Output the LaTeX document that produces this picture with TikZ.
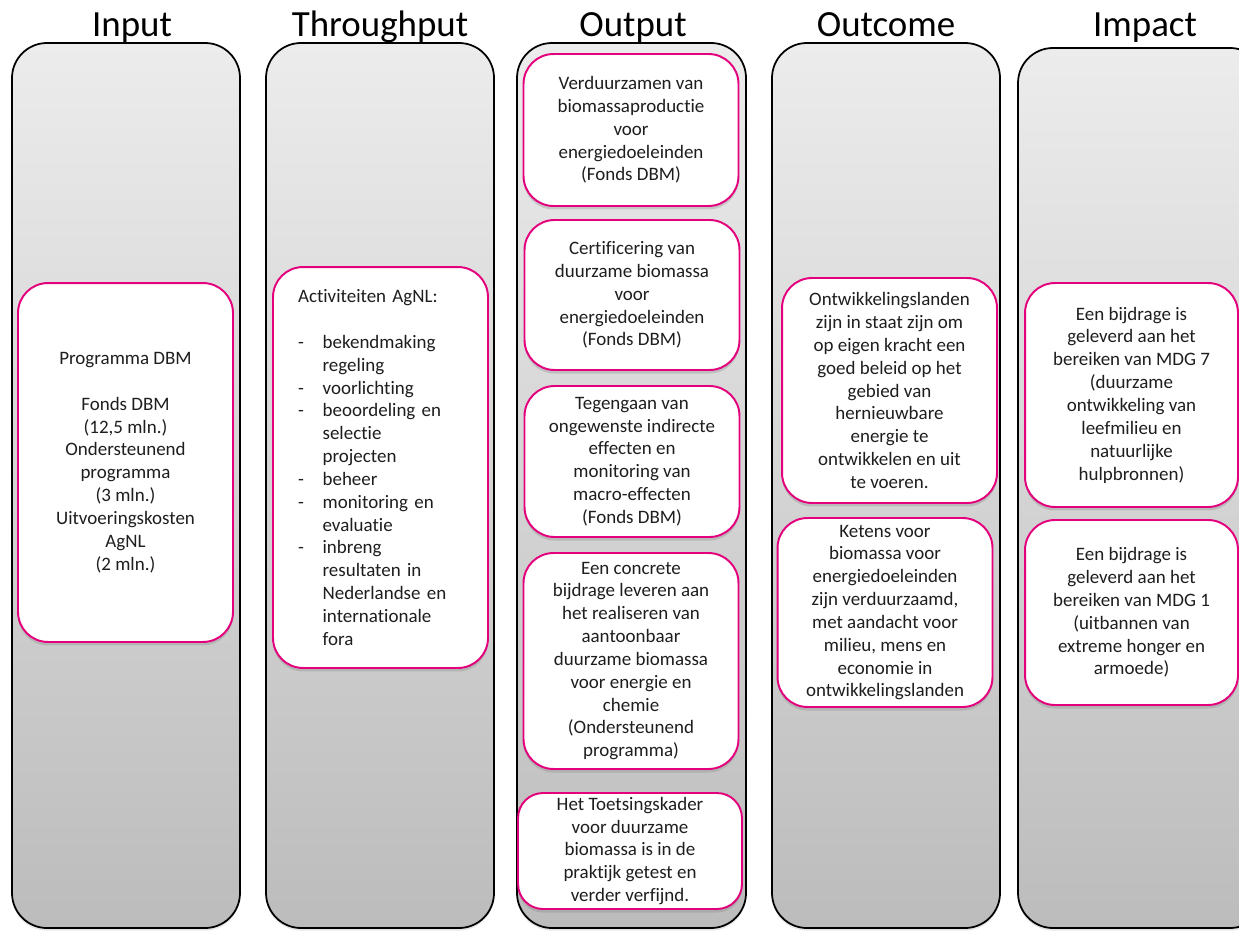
\documentclass[tikz,border=0pt]{standalone}
\usepackage{fontspec}
\setmainfont[Ligatures=NoCommon]{Carlito}
\usetikzlibrary{shadows}
\definecolor{roze}{RGB}{228,0,124}
\definecolor{kolboven}{RGB}{236,236,236}
\definecolor{kolonder}{RGB}{188,188,188}
\definecolor{tekst}{RGB}{30,30,30}
\tikzset{kolom/.style={draw=black, line width=1pt, rounded corners=0.7cm, top color=kolboven, bottom color=kolonder, drop shadow={shadow xshift=0pt, shadow yshift=-1.5pt, opacity=0.2}}}
\tikzset{kop/.style={anchor=base, font=\fontsize{21}{25}\selectfont}}
\tikzset{vak/.style={draw=roze, line width=1.1pt, fill=white, rounded corners=0.6cm, minimum width=4.3cm, align=center, text=tekst, inner sep=2pt, font=\fontsize{10.8}{13}\selectfont, drop shadow={shadow xshift=0pt, shadow yshift=-2pt, opacity=0.3}}}
\newcommand{\streep}{\makebox[14pt][l]{-}}
\newcommand{\inspr}{\hspace*{14pt}}

\begin{document}
\begin{tikzpicture}[x=0.02cm, y=-0.02cm]
        \useasboundingbox (0,0) rectangle (1239,932);
        \clip (0,0) rectangle (1239,932);

        % kolommen
        \draw[kolom] (12,43) rectangle (240,928);
        \draw[kolom] (266,43) rectangle (494,928);
        \draw[kolom] (517,43) rectangle (746,928);
        \draw[kolom] (772,43) rectangle (1000,928);
        \draw[kolom] (1018,48) rectangle (1265,928);

        \node[kop] (kin) at (132,37) {Input};
        \node[kop] (kth) at (380,37) {Throughput};
        \node[kop] (kou) at (633,37) {Output};
        \node[kop] (koc) at (886,37) {Outcome};
        \node[kop] (kim) at (1145,37) {Impact};

        % input
        \node[vak, minimum height=7.18cm] (in) at (125.5,462.5)
         {Programma DBM\\[13pt] Fonds DBM\\ (12,5 mln.)\\ Ondersteunend\\ programma\\ (3 mln.)\\ Uitvoeringskosten\\ AgNL\\ (2 mln.)};

        % throughput
        \node[vak, minimum height=8.02cm, align=left, text width=3.3cm, inner xsep=0.5cm] (th) at (380.5,467.5)
         {Activiteiten AgNL:\\[13pt]
          \streep bekendmaking\\ \inspr regeling\\
          \streep voorlichting\\
          \streep beoordeling en\\ \inspr selectie\\ \inspr projecten\\
          \streep beheer\\
          \streep monitoring en\\ \inspr evaluatie\\
          \streep inbreng\\ \inspr resultaten in\\ \inspr Nederlandse en\\ \inspr internationale\\ \inspr fora};

        % output
        \node[vak, minimum height=3.04cm] (o1) at (631,130)
         {Verduurzamen van\\ biomassaproductie\\ voor\\ energiedoeleinden\\ (Fonds DBM)};
        \node[vak, minimum height=3cm] (o2) at (632,295)
         {Certificering van\\ duurzame biomassa\\ voor\\ energiedoeleinden\\ (Fonds DBM)};
        \node[vak, minimum height=3.02cm] (o3) at (632,461.5)
         {Tegengaan van\\ ongewenste indirecte\\ effecten en\\ monitoring van\\ macro-effecten\\ (Fonds DBM)};
        \node[vak, minimum height=4.32cm] (o4) at (631,661)
         {Een concrete\\ bijdrage leveren aan\\ het realiseren van\\ aantoonbaar\\ duurzame biomassa\\ voor energie en\\ chemie\\ (Ondersteunend\\ programma)};
        \node[vak, minimum height=2.32cm, minimum width=4.48cm, rounded corners=0.5cm] (o5) at (630,851)
         {Het Toetsingskader\\ voor duurzame\\ biomassa is in de\\ praktijk getest en\\ verder verfijnd.};

        % outcome
        \node[vak, minimum height=4.5cm] (oc1) at (889.5,390.5)
         {Ontwikkelingslanden\\ zijn in staat zijn om\\ op eigen kracht een\\ goed beleid op het\\ gebied van\\ hernieuwbare\\ energie te\\ ontwikkelen en uit\\ te voeren.};
        \node[vak, minimum height=3.78cm] (oc2) at (885,612.5)
         {Ketens voor\\ biomassa voor\\ energiedoeleinden\\ zijn verduurzaamd,\\ met aandacht voor\\ milieu, mens en\\ economie in\\ ontwikkelingslanden};

        % impact
        \node[vak, minimum height=4.48cm, minimum width=4.26cm] (im1) at (1131.5,395)
         {Een bijdrage is\\ geleverd aan het\\ bereiken van MDG 7\\ (duurzame\\ ontwikkeling van\\ leefmilieu en\\ natuurlijke\\ hulpbronnen)};
        \node[vak, minimum height=3.7cm, minimum width=4.26cm] (im2) at (1131.5,612.5)
         {Een bijdrage is\\ geleverd aan het\\ bereiken van MDG 1\\ (uitbannen van\\ extreme honger en\\ armoede)};
\end{tikzpicture}
\end{document}
